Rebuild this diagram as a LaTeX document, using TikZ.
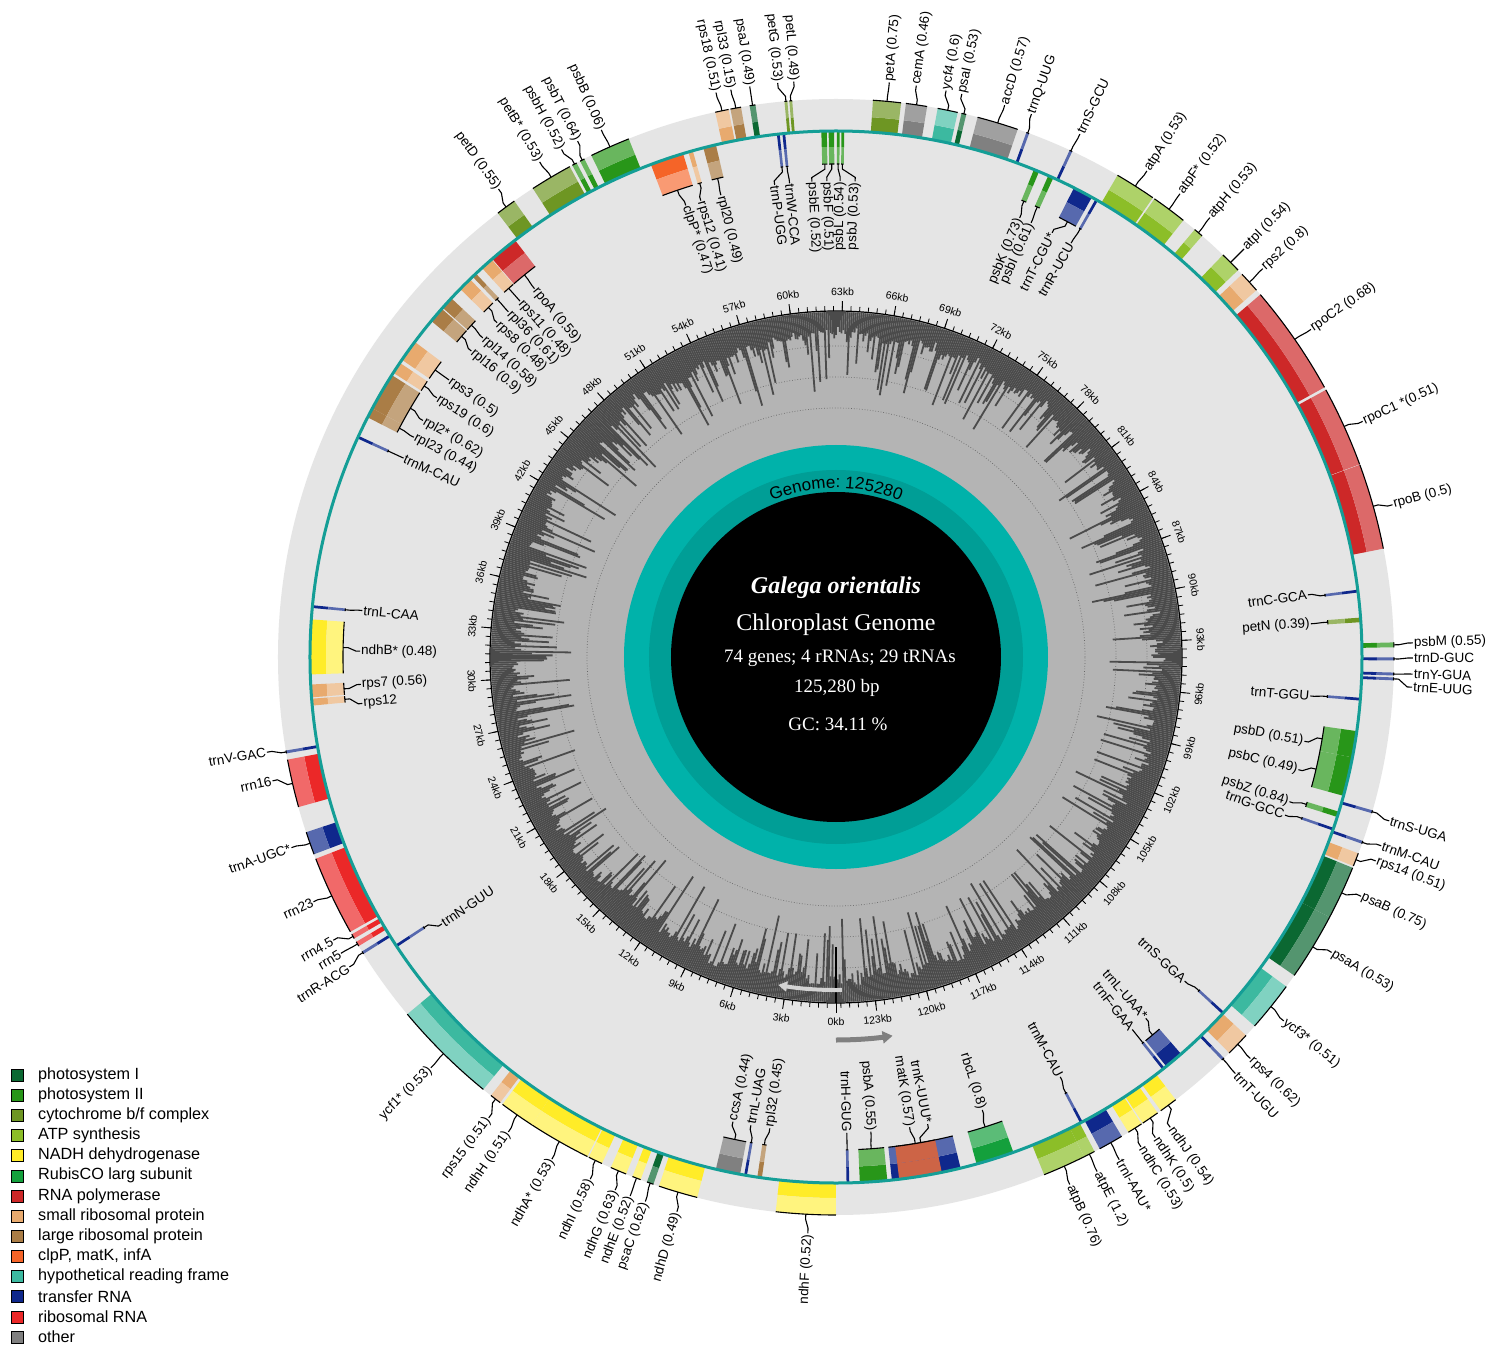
\documentclass[tikz,border=0pt]{standalone}
\usepackage{fontspec}
\setmainfont{Liberation Sans}
\newfontfamily\serf{Liberation Serif}
\usetikzlibrary{decorations.text,arrows.meta}
\definecolor{bandgray}{RGB}{229,229,229}
\definecolor{tealline}{RGB}{20,158,150}
\definecolor{tealA}{RGB}{0,178,170}
\definecolor{tealB}{RGB}{0,158,150}
\definecolor{gcdark}{RGB}{75,75,75}
\definecolor{gclight}{RGB}{180,180,180}
\definecolor{psI}{RGB}{11,104,50}
\definecolor{psII}{RGB}{40,150,25}
\definecolor{cytb}{RGB}{110,150,35}
\definecolor{atp}{RGB}{140,190,40}
\definecolor{ndh}{RGB}{255,236,40}
\definecolor{rbc}{RGB}{20,160,60}
\definecolor{rpo}{RGB}{205,40,40}
\definecolor{rps}{RGB}{232,170,110}
\definecolor{rpl}{RGB}{170,125,70}
\definecolor{clp}{RGB}{245,100,40}
\definecolor{matk}{RGB}{205,100,70}
\definecolor{ycf}{RGB}{60,185,160}
\definecolor{trn}{RGB}{15,40,140}
\definecolor{rrn}{RGB}{235,40,40}
\definecolor{oth}{RGB}{128,128,128}
\colorlet{psIL}{psI!70!white}
\colorlet{psIIL}{psII!70!white}
\colorlet{cytbL}{cytb!70!white}
\colorlet{atpL}{atp!70!white}
\colorlet{ndhL}{ndh!60!white}
\colorlet{rbcL}{rbc!70!white}
\colorlet{rpoL}{rpo!70!white}
\colorlet{rpsL}{rps!65!white}
\colorlet{rplL}{rpl!70!white}
\colorlet{clpL}{clp!65!white}
\colorlet{matkL}{matk}
\colorlet{ycfL}{ycf!65!white}
\colorlet{trnL}{trn!70!white}
\colorlet{rrnL}{rrn!70!white}
\colorlet{othL}{oth!75!white}
\newcommand{\gfont}{\fontsize{17}{18}\selectfont}
\newcommand{\GO}[5]{%
  \fill[#3] (#1:526pt) arc[start angle=#1,end angle=#2,radius=526pt] -- (#2:541pt) arc[start angle=#2,end angle=#1,radius=541pt] -- cycle;
  \fill[#3L] (#1:541pt) arc[start angle=#1,end angle=#2,radius=541pt] -- (#2:558pt) arc[start angle=#2,end angle=#1,radius=558pt] -- cycle;
  \pgfmathsetmacro{\gm}{(#1+#2)/2}%
  \draw[conn] (#1:558pt) arc[start angle=#1,end angle=#2,radius=558pt];
  \draw[conn] (\gm:558pt) -- (\gm:563pt) -- (#4:572pt) -- (#4:577pt);
  \pgfmathtruncatemacro{\rs}{cos(#4)>0}%
  \ifnum\rs=1 \node[lab,anchor=west,rotate=#4] at (#4:577pt) {#5};%
  \else \node[lab,anchor=east,rotate=#4+180] at (#4:577pt) {#5};\fi
}
\newcommand{\GI}[5]{%
  \fill[#3] (#1:526pt) arc[start angle=#1,end angle=#2,radius=526pt] -- (#2:510pt) arc[start angle=#2,end angle=#1,radius=510pt] -- cycle;
  \fill[#3L] (#1:510pt) arc[start angle=#1,end angle=#2,radius=510pt] -- (#2:493pt) arc[start angle=#2,end angle=#1,radius=493pt] -- cycle;
  \pgfmathsetmacro{\gm}{(#1+#2)/2}%
  \draw[conn] (#1:493pt) arc[start angle=#1,end angle=#2,radius=493pt];
  \draw[conn] (\gm:493pt) -- (\gm:488pt) -- (#4:480pt) -- (#4:476pt);
  \pgfmathtruncatemacro{\rs}{cos(#4)>0}%
  \ifnum\rs=1 \node[lab,anchor=east,rotate=#4] at (#4:476pt) {#5};%
  \else \node[lab,anchor=west,rotate=#4+180] at (#4:476pt) {#5};\fi
}
\begin{document}
\begin{tikzpicture}[x=1pt,y=1pt,
  conn/.style={draw=black,line width=1.1pt},
  lab/.style={font=\fontsize{13.5}{15}\selectfont,inner sep=1pt},
  kbl/.style={font=\fontsize{10.5}{12}\selectfont,inner sep=0pt},
  leg/.style={font=\fontsize{16.2}{18}\selectfont,anchor=west,inner sep=0pt},
  ctr/.style={text=white,inner sep=0pt}]
\useasboundingbox (-836,-698) rectangle (666,657);
\fill[white] (-836,-698) rectangle (666,657);
\fill[bandgray] (0,0) circle[radius=558pt];
% GC content ring
\fill[gclight] (0,0) circle[radius=346pt];
\draw[gray!80!black,dotted,line width=0.7pt] (0,0) circle[radius=249pt];
\draw[gray!80!black,dotted,line width=0.7pt] (0,0) circle[radius=280pt];
\draw[gray!80!black,dotted,line width=0.7pt] (0,0) circle[radius=311pt];
\pgfmathsetseed{4242}
\gdef\gcv{0}
\foreach \i in {0,...,1099}{
  \pgfmathsetmacro{\nv}{0.85*\gcv+6*(rnd-0.5)}
  \xdef\gcv{\nv}
  \pgfmathsetmacro{\rr}{max(262,326+\nv-62*rnd^4-6*rnd)}
  \pgfmathsetmacro{\aa}{\i*0.32727}
  \draw[gcdark,line width=1.8pt] (\aa:345pt) -- (\aa:\rr pt);
}
\draw[black,line width=1.2pt] (0,0) circle[radius=346pt];
\foreach \k in {0,...,250}{
  \pgfmathsetmacro{\ta}{-90-\k*1.436782}
  \draw[line width=0.8pt] (\ta:346pt) -- (\ta:351pt);
}
\foreach \k in {0,6,...,246}{
  \pgfmathsetmacro{\ta}{-90-\k*1.436782}
  \pgfmathsetmacro{\tb}{mod(\ta+720,360)}
  \pgfmathsetmacro{\tr}{\tb<=180 ? \tb-90 : \tb+90}
  \pgfmathtruncatemacro{\kb}{\k/2}
  \draw[line width=0.9pt] (\ta:346pt) -- (\ta:356pt);
  \node[kbl,rotate=\tr] at (\ta:365pt) {\kb kb};
}
\draw[black,line width=1.2pt] (-90:290pt) -- (-90:346pt);
% strand arrows
\draw[gray!35,line width=4pt,-{Triangle[length=9pt,width=10pt]}] (-89:333pt) arc[start angle=-89,end angle=-100,radius=333pt];
\draw[gray,line width=5pt,-{Triangle[length=10pt,width=12pt]}] (-90:383pt) arc[start angle=-90,end angle=-81.5,radius=383pt];
% center
\fill[tealA] (0,0) circle[radius=212pt];
\fill[tealB] (0,0) circle[radius=187pt];
\fill[black] (0,0) circle[radius=165pt];
\path[decorate,decoration={text along path,text={|\gfont|Genome: 125280},text align=center}] (116:169pt) arc[start angle=116,end angle=64,radius=169pt];
\node[ctr,font=\serf\fontsize{24}{26}\selectfont\bfseries\itshape] (title) at (0,69) {Galega orientalis};
\node[ctr,font=\serf\fontsize{24}{26}\selectfont] (sub) at (0,32) {Chloroplast Genome};
\node[ctr,font=\serf\fontsize{19}{21}\selectfont] (genes) at (4,-1) {74 genes; 4 rRNAs; 29 tRNAs};
\node[ctr,font=\serf\fontsize{19}{21}\selectfont] (bp) at (1,-31) {125,280 bp};
\node[ctr,font=\serf\fontsize{19}{21}\selectfont] (gc) at (2,-67) {GC: 34.11 \%};
% outer genes
\GO{125.2}{127.3}{cytb}{125.8}{petD (0.55)}
\GO{118.5}{122.9}{cytb}{120.9}{petB* (0.53)}
\GO{117.7}{118.2}{psII}{118.4}{psbH (0.52)}
\GO{116.8}{117.3}{psII}{116.6}{psbT (0.64)}
\GO{111.8}{116.0}{psII}{114.0}{psbB (0.06)}
\GO{101.1}{102.5}{rps}{102.0}{rps18 (0.51)}
\GO{99.8}{100.9}{rpl}{100.5}{rpl33 (0.15)}
\GO{98.3}{98.9}{psI}{98.6}{psaJ (0.49)}
\GO{95.0}{95.3}{cytb}{95.8}{petG (0.53)}
\GO{94.5}{94.8}{cytb}{94.2}{petL (0.49)}
\GO{83.3}{86.2}{cytb}{84.7}{petA (0.75)}
\GO{80.6}{82.8}{oth}{82.0}{cemA (0.46)}
\GO{77.4}{79.5}{ycf}{79.0}{ycf4 (0.6)}
\GO{76.5}{77.0}{psI}{77.4}{psaI (0.53)}
\GO{71.0}{75.3}{oth}{73.0}{accD (0.57)}
\GO{69.75}{70.05}{trn}{70.2}{trnQ-UUG}
\GO{64.95}{65.25}{trn}{65.0}{trnS-GCU}
\GO{55.4}{59.7}{atp}{57.4}{atpA (0.53)}
\GO{51.5}{55.2}{atp}{53.4}{atpF* (0.52)}
\GO{49.0}{50.0}{atp}{49.6}{atpH (0.53)}
\GO{43.9}{46.1}{atp}{45.0}{atpI (0.54)}
\GO{41.1}{43.3}{rps}{42.3}{rps2 (0.8)}
\GO{28.9}{40.5}{rpo}{34.6}{rpoC2 (0.68)}
\GO{20.2}{28.6}{rpo}{24.1}{rpoC1 *(0.51)}
\GO{11.2}{20.15}{rpo}{15.3}{rpoB (0.5)}
\GO{1.0}{1.5}{psII}{1.4}{psbM (0.55)}
\GO{-0.35}{-0.05}{trn}{-0.1}{trnD-GUC}
\GO{-1.9}{-1.6}{trn}{-1.7}{trnY-GUA}
\GO{-2.4}{-2.1}{trn}{-3.0}{trnE-UUG}
\GO{-16.25}{-15.95}{trn}{-16.5}{trnS-UGA}
\GO{-19.55}{-19.25}{trn}{-19.1}{trnM-CAU}
\GO{-22.0}{-20.6}{rps}{-20.7}{rps14 (0.51)}
\GO{-27.8}{-22.2}{psI}{-24.5}{psaB (0.75)}
\GO{-34.8}{-27.8}{psI}{-30.8}{psaA (0.53)}
\GO{-41.4}{-36.2}{ycf}{-39.1}{ycf3* (0.51)}
\GO{-45.2}{-42.7}{rps}{-44.1}{rps4 (0.62)}
\GO{-46.25}{-45.95}{trn}{-46.2}{trnT-UGU}
\GO{-54.4}{-52.5}{ndh}{-54.6}{ndhJ (0.54)}
\GO{-56.65}{-54.8}{ndh}{-56.4}{ndhK (0.5)}
\GO{-58.4}{-56.8}{ndh}{-58.1}{ndhC (0.53)}
\GO{-61.8}{-59.2}{trn}{-60.6}{trnI-AAU*}
\GO{-63.6}{-62.4}{atp}{-63.1}{atpE (1.2)}
\GO{-68.1}{-63.6}{atp}{-66.1}{atpB (0.76)}
\GO{-96.2}{-90.0}{ndh}{-92.8}{ndhF (0.52)}
\GO{-108.5}{-104.4}{ndh}{-106.0}{ndhD (0.49)}
\GO{-109.8}{-109.1}{psI}{-109.3}{psaC (0.62)}
\GO{-111.4}{-110.5}{ndh}{-110.9}{ndhE (0.52)}
\GO{-113.8}{-112.1}{ndh}{-112.5}{ndhG (0.63)}
\GO{-116.3}{-114.8}{ndh}{-115.2}{ndhI (0.58)}
\GO{-123.0}{-116.45}{ndh}{-119.5}{ndhA* (0.53)}
\GO{-126.7}{-123.0}{ndh}{-124.6}{ndhH (0.51)}
\GO{-128.2}{-127.0}{rps}{-127.0}{rps15 (0.51)}
\GO{-140.2}{-129.2}{ycf}{-134.6}{ycf1* (0.53)}
\GO{211.85}{212.15}{trn}{212.5}{trnR-ACG}
\GO{210.7}{211.2}{rrn}{210.9}{rrn5}
\GO{209.8}{210.3}{rrn}{209.4}{rrn4.5}
\GO{201.2}{209.5}{rrn}{205.1}{rrn23}
\GO{198.3}{200.7}{trn}{199.3}{trnA-UGC*}
\GO{190.6}{195.6}{rrn}{192.4}{rrn16}
\GO{189.65}{189.95}{trn}{189.5}{trnV-GAC}
% inner genes
\GI{127.6}{130.8}{rpo}{129.3}{rpoA (0.59)}
\GI{130.9}{132.3}{rps}{131.6}{rps11 (0.48)}
\GI{133.2}{133.7}{rpl}{133.5}{rpl36 (0.61)}
\GI{134.1}{135.6}{rps}{135.4}{rps8 (0.48)}
\GI{137.0}{138.4}{rpl}{137.9}{rpl14 (0.58)}
\GI{138.55}{140.3}{rpl}{140.0}{rpl16 (0.9)}
\GI{143.2}{145.6}{rps}{144.4}{rps3 (0.5)}
\GI{146.0}{147.3}{rps}{147.0}{rps19 (0.6)}
\GI{147.6}{151.8}{rpl}{150.2}{rpl2* (0.62)}
\GI{151.8}{152.9}{rpl}{152.5}{rpl23 (0.44)}
\GI{155.15}{155.45}{trn}{155.3}{trnM-CAU}
\GI{174.35}{174.65}{trn}{174.4}{trnL-CAA}
\GI{175.9}{181.9}{ndh}{179.3}{ndhB* (0.48)}
\GI{183.0}{184.4}{rps}{183.3}{rps7 (0.56)}
\GI{184.55}{185.3}{rps}{185.6}{rps12}
\GI{213.15}{213.45}{trn}{214.1}{trnN-GUU}
\GI{256.8}{259.5}{oth}{257.5}{ccsA (0.44)}
\GI{259.95}{260.25}{trn}{259.7}{trnL-UAG}
\GI{261.4}{261.9}{rpl}{262.0}{rpl32 (0.45)}
\GI{271.15}{271.45}{trn}{271.3}{trnH-GUG}
\GI{272.6}{275.6}{psII}{274.2}{psbA (0.55)}
\GI{276.1}{283.7}{trn}{281.1}{trnK-UUU*}
\GI{276.9}{281.6}{matk}{278.9}{matK (0.57)}
\GI{285.5}{289.7}{rbc}{287.9}{rbcL (0.8)}
\GI{297.65}{297.95}{trn}{298.1}{trnM-CAU}
\GI{308.35}{308.65}{trn}{308.5}{trnF-GAA}
\GI{308.9}{311.0}{trn}{310.6}{trnL-UAA*}
\GI{317.25}{317.55}{trn}{317.1}{trnS-GGA}
\GI{340.75}{341.05}{trn}{340.6}{trnG-GCC}
\GI{342.3}{342.9}{psII}{342.3}{psbZ (0.84)}
\GI{344.7}{349.0}{psII}{346.3}{psbC (0.49)}
\GI{349.0}{351.9}{psII}{349.8}{psbD (0.51)}
\GI{355.25}{355.55}{trn}{355.3}{trnT-GGU}
\GI{3.8}{4.3}{cytb}{4.0}{petN (0.39)}
\GI{7.05}{7.35}{trn}{7.5}{trnC-GCA}
\GI{60.15}{60.45}{trn}{60.4}{trnR-UCU}
\GI{60.9}{63.1}{trn}{63.0}{trnT-CGU*}
\GI{65.6}{66.2}{psII}{65.8}{psbI (0.61)}
\GI{67.3}{67.9}{psII}{67.3}{psbK (0.73)}
\GI{89.1}{89.4}{psII}{87.7}{psbJ (0.53)}
\GI{89.6}{89.9}{psII}{89.5}{psbL (0.54)}
\GI{90.2}{90.8}{psII}{91.1}{psbF (0.51)}
\GI{91.0}{91.6}{psII}{92.9}{psbE (0.52)}
\GI{95.55}{95.85}{trn}{95.6}{trnW-CCA}
\GI{96.15}{96.45}{trn}{97.4}{trnP-UGG}
\GI{103.2}{104.6}{rpl}{104.0}{rpl20 (0.49)}
\GI{105.8}{106.3}{rps}{106.5}{rps12 (0.41)}
\GI{106.9}{110.6}{clp}{108.4}{clpP* (0.47)}
\draw[tealline,line width=3pt] (0,0) circle[radius=526pt];
% legend
\foreach \c/\t [count=\n from 0] in {psI/{photosystem I},psII/{photosystem II},cytb/{cytochrome b/f complex},atp/{ATP synthesis},ndh/{NADH dehydrogenase},rbc/{RubisCO larg subunit},rpo/{RNA polymerase},rps/{small ribosomal protein},rpl/{large ribosomal protein},clp/{clpP, matK, infA},ycf/{hypothetical reading frame},trn/{transfer RNA},rrn/{ribosomal RNA},oth/{other}}{
  \pgfmathsetmacro{\ly}{-418-\n*20.15}
  \filldraw[fill=\c,draw=black,line width=0.5pt] (-825,\ly-6) rectangle (-813,\ly+6);
  \node[leg] (leg\n) at (-798,\ly) {\t};
}
\end{tikzpicture}
\end{document}
